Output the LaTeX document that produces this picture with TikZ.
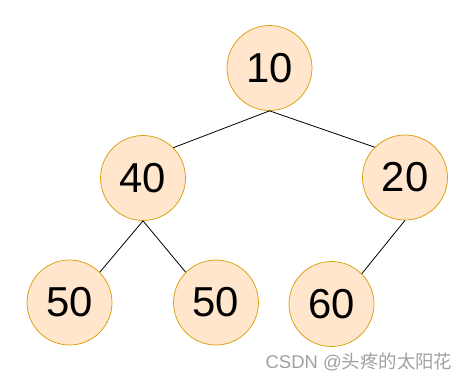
\documentclass[tikz,border=0pt]{standalone}
\usepackage{fontspec}
\setmainfont{Liberation Sans}
\newfontfamily\cjkfont{Noto Sans CJK SC}
\definecolor{nodefill}{HTML}{FFE6CC}
\definecolor{nodedraw}{HTML}{D79B00}
\definecolor{wmgray}{HTML}{A0A0A0}
\begin{document}
\begin{tikzpicture}[x=1bp,y=-1bp,
  treenode/.style={circle,draw=nodedraw,fill=nodefill,line width=0.7bp,minimum size=85bp,inner sep=0pt,font=\fontsize{42}{42}\selectfont},
  edge/.style={draw=black,line width=0.8bp}]
\useasboundingbox (0,0) rectangle (471,381);
\node[treenode] (n10) at (269.5,68) {10};
\node[treenode] (n40) at (143,178) {40};
\node[treenode] (n20) at (405,177.5) {20};
\node[treenode] (n50a) at (69.5,302.5) {50};
\node[treenode] (n50b) at (216,302.5) {50};
\node[treenode] (n60) at (331.5,304) {60};
\draw[edge] (n10.south) -- (n40.45);
\draw[edge] (n10.south) -- (n20.135);
\draw[edge] (n40.south) -- (n50a.45);
\draw[edge] (n40.south) -- (n50b.135);
\draw[edge] (n20.south) -- (n60.45);
\node[anchor=center,text=wmgray,font=\fontsize{18.5}{18.5}\selectfont,inner sep=0pt] (wm) at (359,362) {CSDN @{\cjkfont 头疼的太阳花}};
\end{tikzpicture}
\end{document}
